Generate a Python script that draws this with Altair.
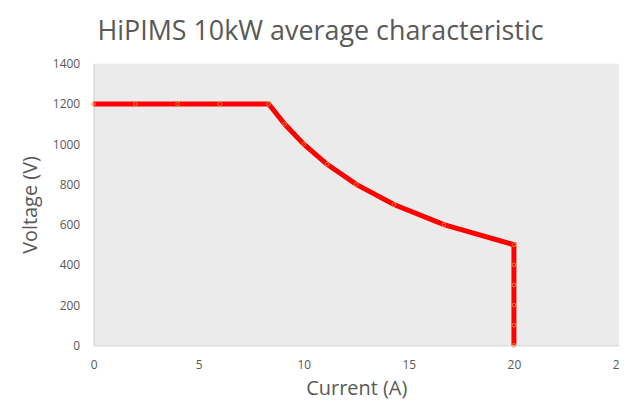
import altair as alt
import pandas as pd

current = [0, 2, 4, 6, 8.33, 9.09, 10, 11.11, 12.5, 14.29, 16.67, 20, 20, 20, 20, 20, 20]
voltage = [1200, 1200, 1200, 1200, 1200, 1100, 1000, 900, 800, 700, 600, 500, 400, 300, 200, 100, 0]

df = pd.DataFrame({"Current": current, "Voltage": voltage, "idx": list(range(len(current)))})

FONT = "Open Sans"
GRAY = "#595959"

x = alt.X("Current:Q", scale=alt.Scale(domain=[0, 25], nice=False),
          axis=alt.Axis(title="Current (A)", values=[0, 5, 10, 15, 20, 25], grid=False,
                        ticks=False, domainColor="#d0d0d0", labelColor=GRAY, titleColor=GRAY,
                        labelFont=FONT, titleFont=FONT, labelFontSize=12, titleFontSize=20,
                        titleFontWeight="normal", labelPadding=14, titlePadding=8,
                        labelFlush=False))
y = alt.Y("Voltage:Q", scale=alt.Scale(domain=[0, 1400], nice=False),
          axis=alt.Axis(title="Voltage (V)", values=list(range(0, 1401, 200)), grid=False,
                        format="d",
                        ticks=False, domainColor="#d0d0d0", labelColor=GRAY, titleColor=GRAY,
                        labelFont=FONT, titleFont=FONT, labelFontSize=12, titleFontSize=20,
                        titleFontWeight="normal", labelPadding=14, titlePadding=12))

base = alt.Chart(df)
line = base.mark_line(color="#ff0000", strokeWidth=5).encode(x=x, y=y, order="idx:Q")
pts = base.mark_point(filled=False, color="#f08a30", size=14, strokeWidth=1, opacity=0.9).encode(x=x, y=y)

chart = alt.layer(line, pts).properties(
    width=528, height=283,
    autosize=alt.AutoSizeParams(type="none"),
    padding={"left": 86, "top": 55, "right": 0, "bottom": 58},
    title=alt.TitleParams("HiPIMS 10kW average characteristic", font=FONT, fontSize=27,
                          fontWeight="normal", color=GRAY, anchor="middle", dx=-36, offset=12),
).configure_view(fill="#ebebeb", stroke=None)

chart.save("out.html", embed_options={"renderer": "svg", "actions": False})
